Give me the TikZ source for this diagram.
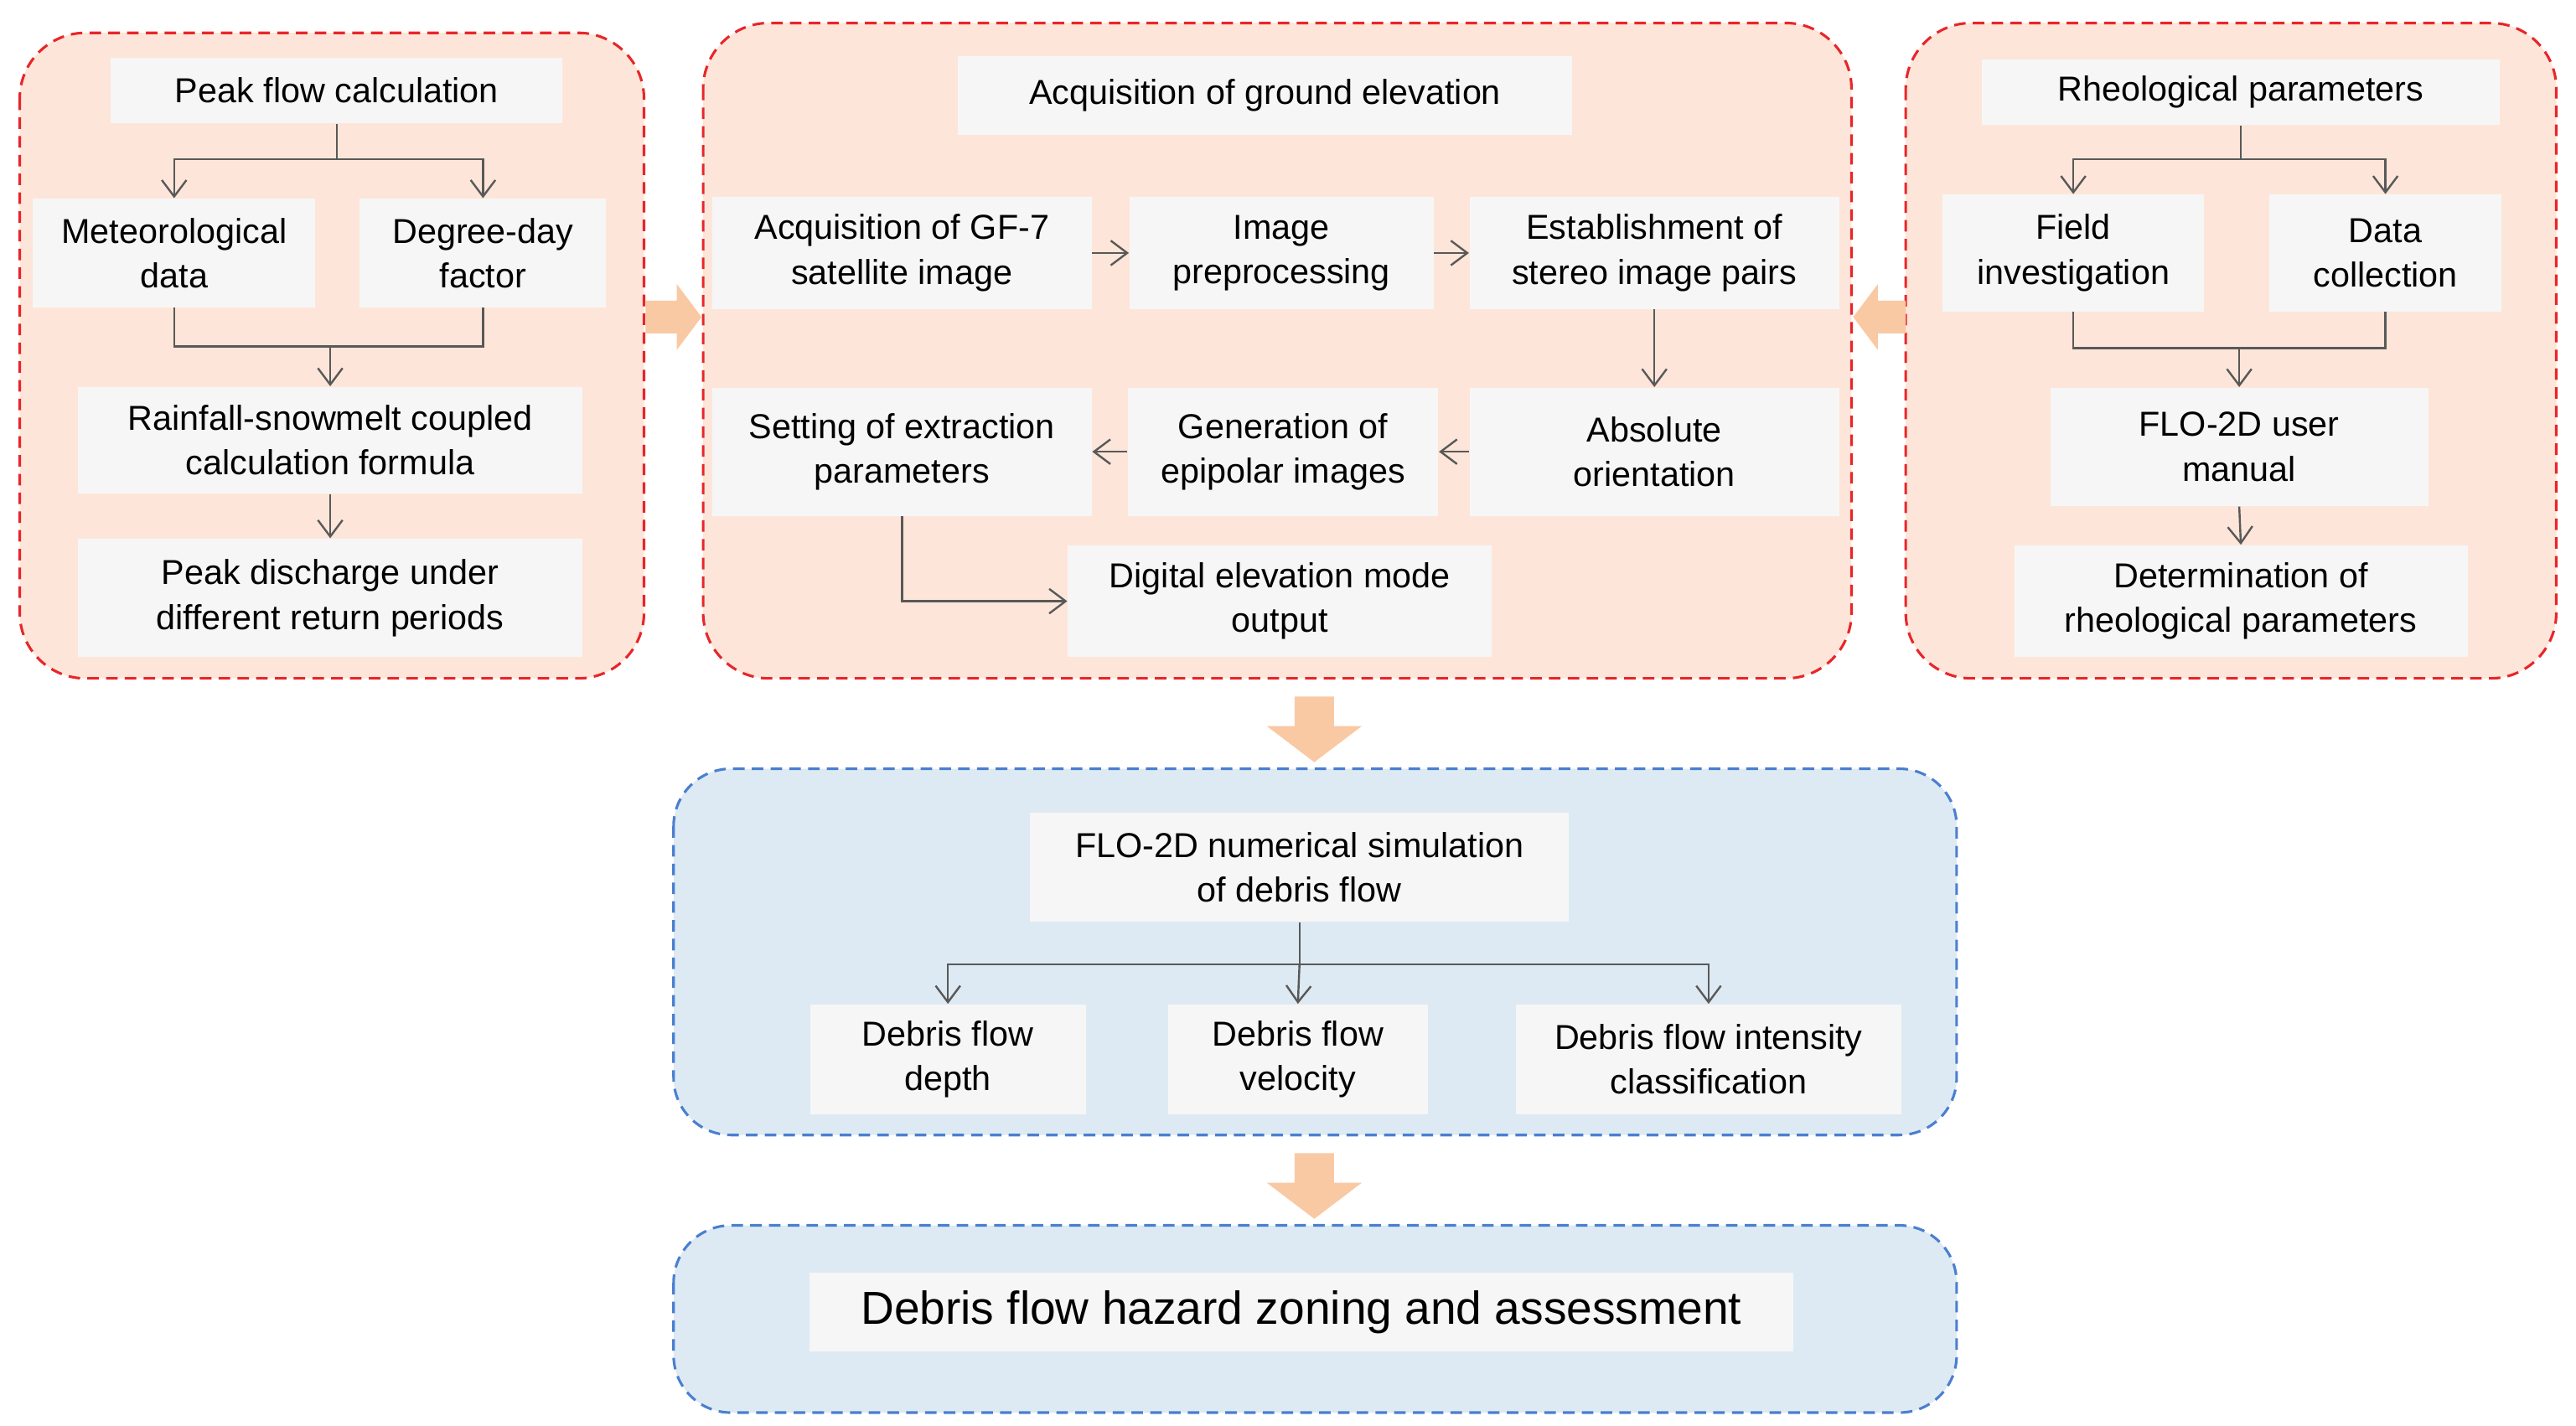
\documentclass[tikz,border=0pt]{standalone}
\usepackage{fontspec}
\setmainfont{Liberation Sans}
\usetikzlibrary{arrows.meta,shapes.arrows}
\definecolor{og}{HTML}{FDE6D9}
\definecolor{rd}{HTML}{E8262A}
\definecolor{bx}{HTML}{F6F6F6}
\definecolor{bl}{HTML}{DDEAF3}
\definecolor{bd}{HTML}{4A7FD0}
\definecolor{ar}{HTML}{F9C9A3}
\definecolor{ln}{HTML}{595959}
\begin{document}
\begin{tikzpicture}[x=0.2mm,y=-0.2mm,
  grp/.style={draw=rd,fill=og,dashed,line width=0.9pt,rounded corners=8mm,dash pattern=on 4pt off 2.5pt},
  bgrp/.style={draw=bd,fill=bl,dashed,line width=0.9pt,rounded corners=7mm,dash pattern=on 4pt off 2.5pt},
  b/.style={fill=bx,align=center,font=\fontsize{12}{15.5}\selectfont,inner sep=0pt},
  c/.style={draw=ln,line width=0.7pt},
  a/.style={c,-{Straight Barb[length=2mm,width=3mm]}},
  big/.style={fill=ar,draw=none}]
\useasboundingbox (0,0) rectangle (1568,868);
% groups
\draw[grp] (12,20) rectangle (392,413);
\draw[grp] (428,14) rectangle (1127,413);
\draw[grp] (1160,14) rectangle (1556,413);
\draw[bgrp] (410,468) rectangle (1191,691);
\draw[bgrp] (410,746) rectangle (1191,860);
% big arrows
\fill[big] (393,183) -- (412,183) -- (412,173) -- (427,193) -- (412,213) -- (412,203) -- (393,203) -- cycle;
\fill[big] (1160,183) -- (1143,183) -- (1143,173) -- (1128,193) -- (1143,213) -- (1143,203) -- (1160,203) -- cycle;
\fill[big] (788,424) -- (812,424) -- (812,442) -- (829,442) -- (800,464) -- (771,442) -- (788,442) -- cycle;
\fill[big] (788,702) -- (812,702) -- (812,720) -- (829,720) -- (800,742) -- (771,720) -- (788,720) -- cycle;
% left
\node[b,minimum width=55mm,minimum height=8mm] (pf) at (205,55) {Peak flow calculation};
\node[b,minimum width=34.4mm,minimum height=13.2mm] (md) at (106,154) {Meteorological\\data};
\node[b,minimum width=30mm,minimum height=13.2mm] (dd) at (294,154) {Degree-day\\factor};
\node[b,minimum width=61.4mm,minimum height=13mm] (rs) at (201,268) {Rainfall-snowmelt coupled\\calculation formula};
\node[b,minimum width=61.4mm,minimum height=14.4mm] (pd) at (201,364) {Peak discharge under\\different return periods};
\coordinate (j1) at (205,97);
\coordinate (j2) at (201,211);
\draw[c] (pf.south) -- (j1);
\draw[a] (j1) -| (md.north);
\draw[a] (j1) -| (dd.north);
\draw[c] (md.south) |- (j2);
\draw[c] (dd.south) |- (j2);
\draw[a] (j2) -- (rs.north);
\draw[a] (rs.south) -- (pd.north);
% middle
\node[b,minimum width=74.8mm,minimum height=9.6mm] (ge) at (770,58) {Acquisition of ground elevation};
\node[b,minimum width=46.2mm,minimum height=13.6mm] (gf) at (549,154) {Acquisition of GF-7\\satellite image};
\node[b,minimum width=37mm,minimum height=13.6mm] (ip) at (780,154) {Image\\preprocessing};
\node[b,minimum width=45mm,minimum height=13.6mm] (st) at (1007,154) {Establishment of\\stereo image pairs};
\node[b,minimum width=45mm,minimum height=15.6mm] (ao) at (1007,275) {Absolute\\orientation};
\node[b,minimum width=37.8mm,minimum height=15.6mm] (ep) at (781,275) {Generation of\\epipolar images};
\node[b,minimum width=46.2mm,minimum height=15.6mm] (se) at (549,275) {Setting of extraction\\parameters};
\node[b,minimum width=51.6mm,minimum height=13.6mm] (dem) at (779,366) {Digital elevation mode\\output};
\draw[a] (gf) -- (ip);
\draw[a] (ip) -- (st);
\draw[a] (st) -- (ao);
\draw[a] (ao) -- (ep);
\draw[a] (ep) -- (se);
\draw[a] (se.south) |- (dem.west);
% right
\node[b,minimum width=63mm,minimum height=8mm] (rp) at (1364,56) {Rheological parameters};
\node[b,minimum width=31.8mm,minimum height=14.2mm] (fi) at (1262,154) {Field\\investigation};
\node[b,minimum width=28.2mm,minimum height=14.2mm] (dc) at (1452,154) {Data\\collection};
\node[b,minimum width=46mm,minimum height=14.4mm] (um) at (1363,272) {FLO-2D user\\manual};
\node[b,minimum width=55.2mm,minimum height=13.6mm] (dr) at (1364,366) {Determination of\\rheological parameters};
\coordinate (k1) at (1364,97);
\coordinate (k2) at (1363,212);
\draw[c] (rp.south) -- (k1);
\draw[a] (k1) -| (fi.north);
\draw[a] (k1) -| (dc.north);
\draw[c] (fi.south) |- (k2);
\draw[c] (dc.south) |- (k2);
\draw[a] (k2) -- (um.north);
\draw[a] (um.south) -- (dr.north);
% blue
\node[b,minimum width=65.6mm,minimum height=13.2mm] (fl) at (791,528) {FLO-2D numerical simulation\\of debris flow};
\node[b,minimum width=33.6mm,minimum height=13.4mm] (de) at (577,645) {Debris flow\\depth};
\node[b,minimum width=31.6mm,minimum height=13.4mm] (ve) at (790,645) {Debris flow\\velocity};
\node[b,minimum width=47mm,minimum height=13.4mm] (in) at (1040,645) {Debris flow intensity\\classification};
\coordinate (m1) at (791,587);
\draw[c] (fl.south) -- (m1);
\draw[a] (m1) -| (de.north);
\draw[a] (m1) -- (ve.north);
\draw[a] (m1) -| (in.north);
\node[b,font=\fontsize{16}{19}\selectfont,minimum width=119.8mm,minimum height=9.6mm] (hz) at (792,799) {Debris flow hazard zoning and assessment};
\end{tikzpicture}
\end{document}
